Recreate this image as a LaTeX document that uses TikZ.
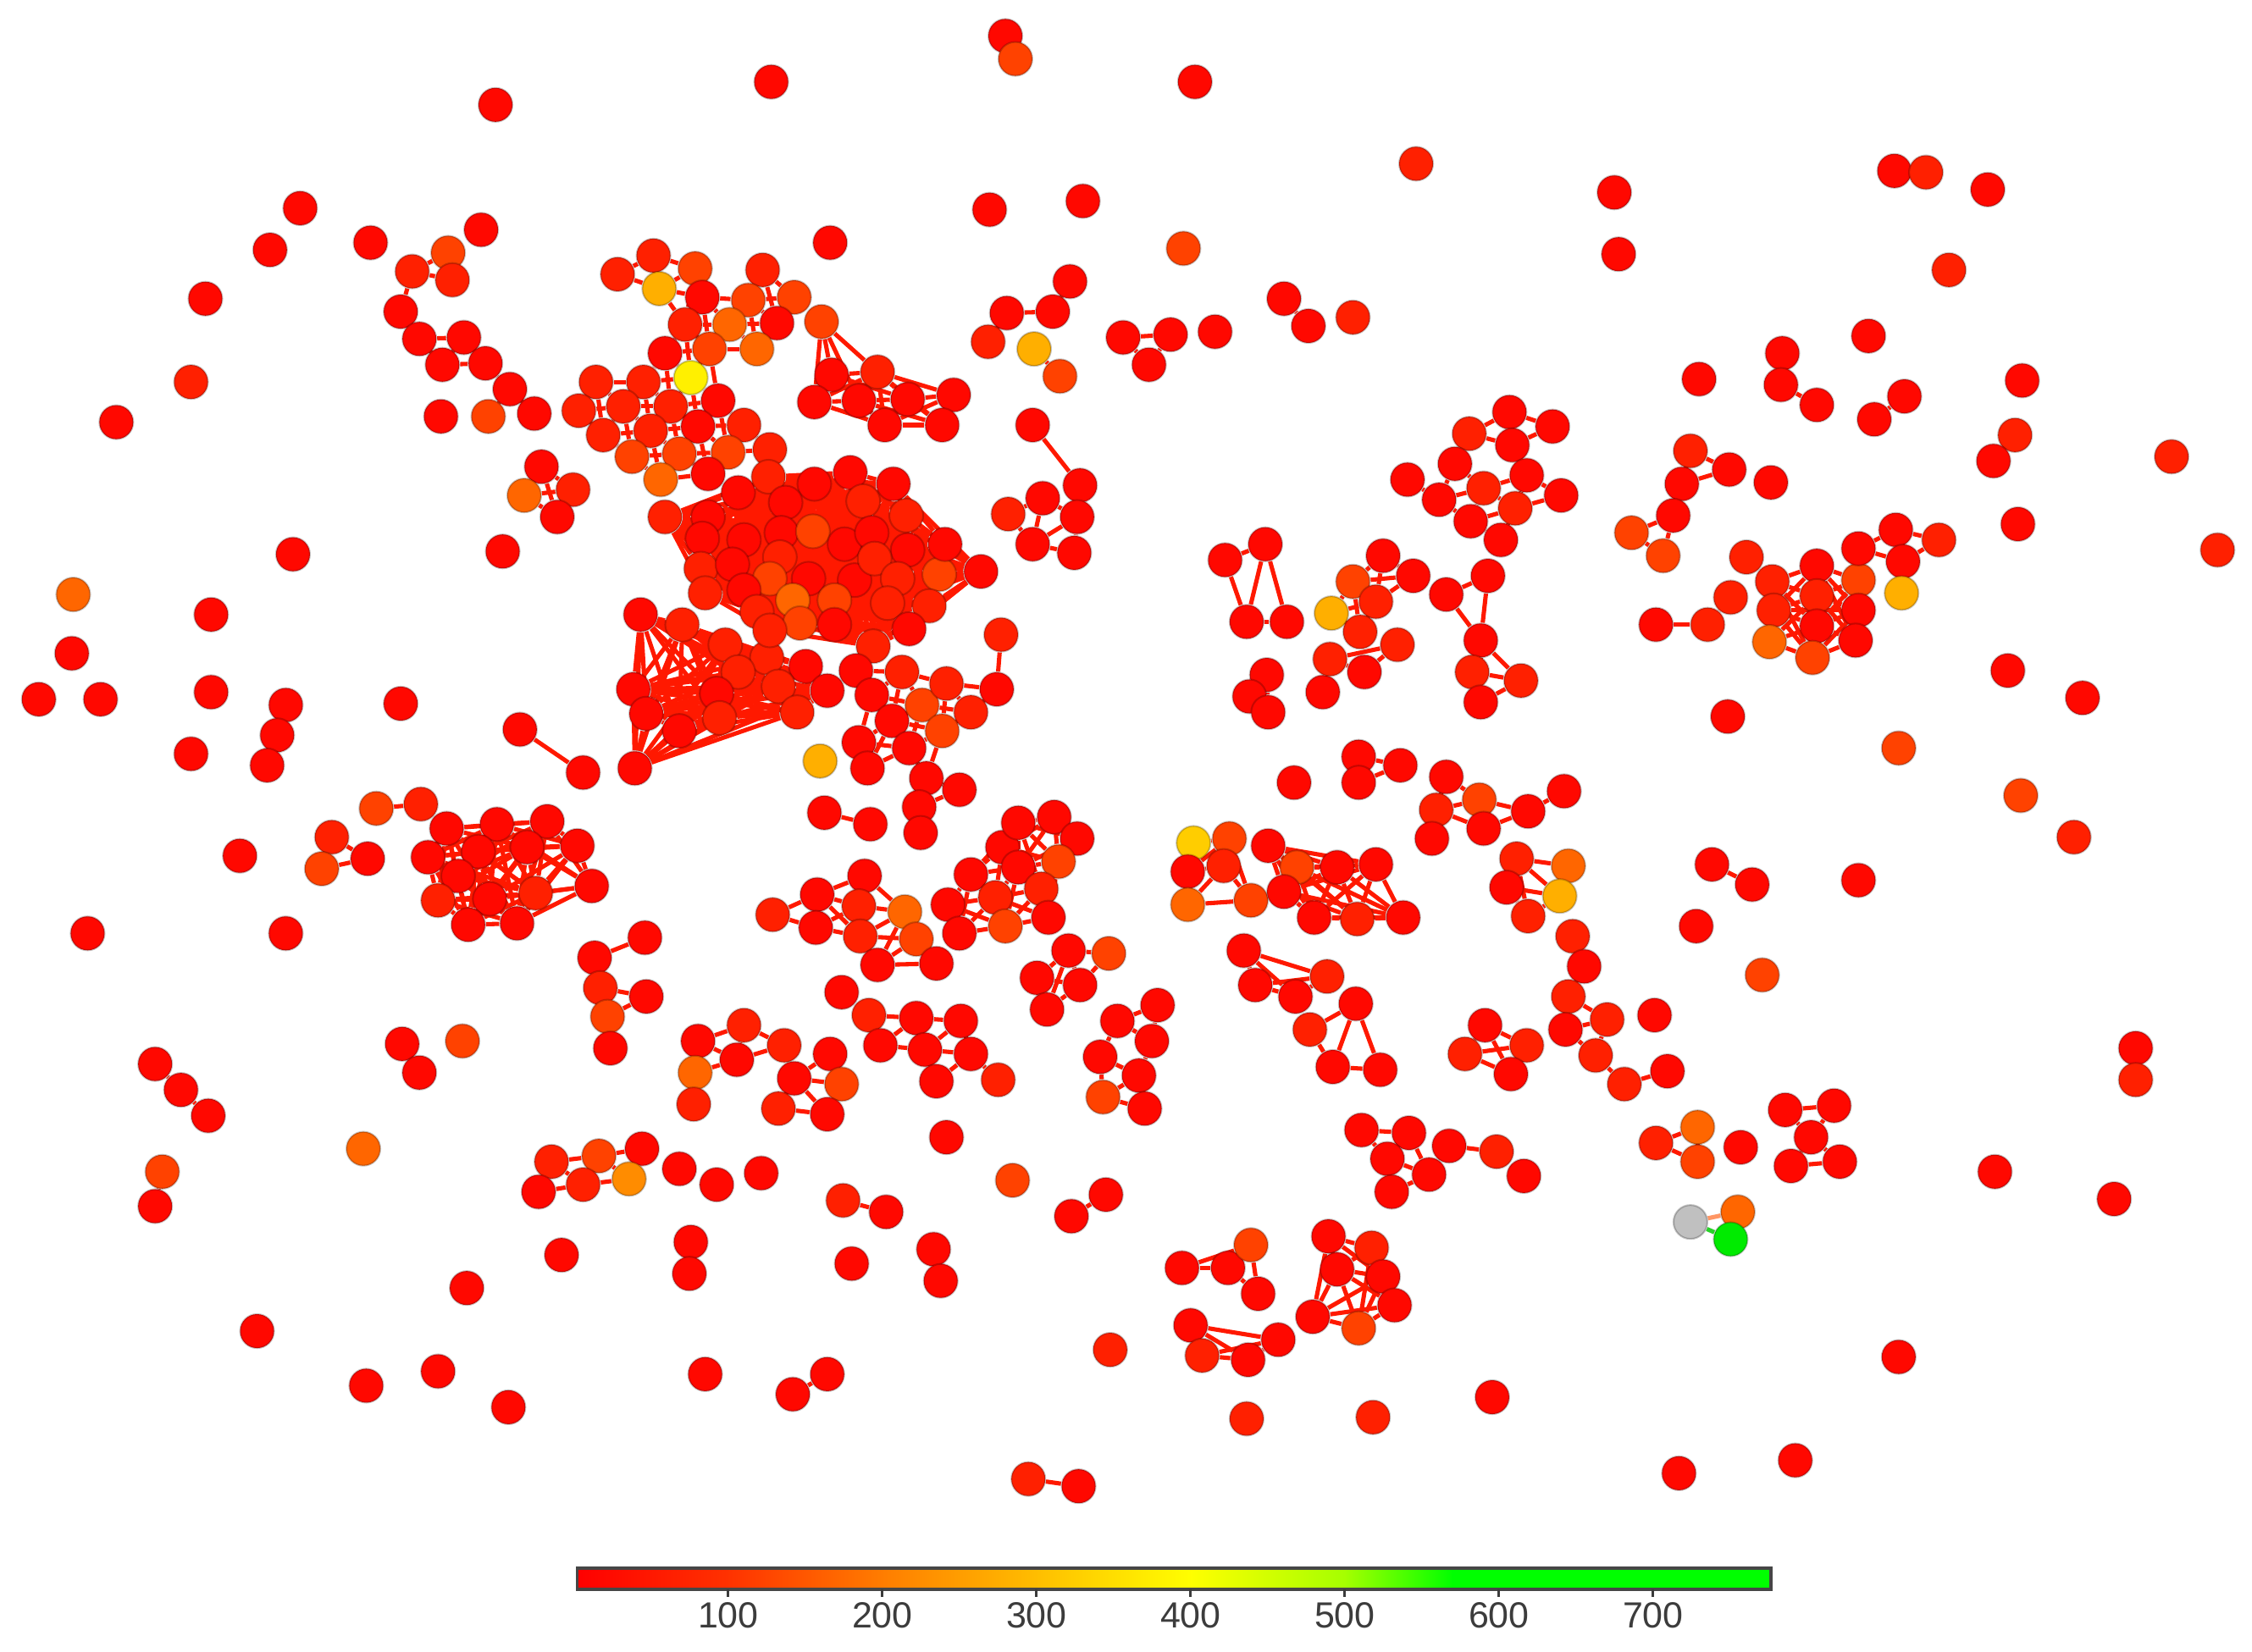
\documentclass[tikz,border=0pt]{standalone}
\usepackage{fontspec}
\setmainfont{Liberation Sans}
\pgfdeclarelayer{back}
\pgfdeclarelayer{bg}
\pgfsetlayers{back,bg,main}
\definecolor{C0}{RGB}{255,8,0}
\definecolor{C1}{RGB}{255,32,0}
\definecolor{C2}{RGB}{255,66,0}
\definecolor{C3}{RGB}{255,102,0}
\definecolor{C35}{RGB}{255,140,0}
\definecolor{C4}{RGB}{255,175,0}
\definecolor{CY}{RGB}{255,205,0}
\definecolor{C5}{RGB}{255,240,0}
\definecolor{CG}{RGB}{192,192,192}
\definecolor{CN}{RGB}{0,235,0}
\definecolor{EC}{RGB}{255,25,0}
\definecolor{LBL}{RGB}{60,60,60}
\definecolor{cb0}{RGB}{255,0,0}
\definecolor{cb1}{RGB}{255,50,0}
\definecolor{cb2}{RGB}{255,125,0}
\definecolor{cb3}{RGB}{255,190,0}
\definecolor{cb4}{RGB}{255,255,0}
\definecolor{cb5}{RGB}{165,255,0}
\definecolor{cb6}{RGB}{0,255,0}
\newdimen\lkx \newdimen\lky \newdimen\unitlen \unitlen=0.01cm
\makeatletter
\newcommand\cluster[2]{%
  \foreach \px/\py/\pc [count=\pn] in {#2}{%
    \node[nd,\pc] (#1\pn) at (\px,\py) {};
    \expandafter\xdef\csname cnt#1\endcsname{\pn}}}
\newcommand\linknear[2]{%
  \edef\lkN{\csname cnt#1\endcsname}%
  \foreach \i in {1,...,\lkN}{%
    \foreach \j in {1,...,\lkN}{%
      \ifnum\i<\j\relax
        \pgfpointdiff{\pgfpointanchor{#1\i}{center}}{\pgfpointanchor{#1\j}{center}}%
        \lkx=\pgf@x \lky=\pgf@y
        \pgfmathsetmacro\lkd{veclen(\lkx,\lky)}%
        \ifdim\lkd pt<#2\unitlen
          \draw[lnk] (#1\i) -- (#1\j);
        \fi
      \fi}}}
\makeatother
\tikzset{
  nd/.style={circle, inner sep=0pt, minimum size=0.236cm, draw=black, draw opacity=0.22, line width=0.35pt},
  c0/.style={fill=C0}, c1/.style={fill=C1}, c2/.style={fill=C2}, c3/.style={fill=C3},
  c35/.style={fill=C35}, c4/.style={fill=C4}, cy/.style={fill=CY}, c5/.style={fill=C5},
  cg/.style={fill=CG}, cn/.style={fill=CN},
  lnk/.style={draw=EC, line width=0.85pt},
  tck/.style={draw=LBL, line width=0.5pt},
  lbl/.style={text=LBL, font=\fontsize{7.2}{8}\selectfont, inner sep=0pt}
}
\begin{document}
\begin{tikzpicture}[x=0.01cm, y=-0.01cm]
\begin{pgfonlayer}{back}
\fill[white] (0,0) rectangle (1568,1150);
\end{pgfonlayer}
\useasboundingbox (0,0) rectangle (1568,1150);
% singles
\cluster{s}{537/57/c0, 832/57/c0, 345/73/c0, 986/114/c1, 1384/132/c0, 1124/134/c0, 1127/177/c0, 1357/188/c1, 209/145/c0, 188/174/c0, 258/169/c0, 335/160/c0, 143/208/c0, 133/266/c1, 81/294/c0, 689/146/c0, 754/140/c0, 578/169/c0, 824/173/c2, 942/221/c1, 846/231/c0, 204/386/c0, 350/384/c0, 51/414/c3, 147/428/c0, 50/455/c0, 27/487/c0, 70/487/c0, 147/482/c0, 133/525/c0, 279/490/c0, 167/596/c0, 61/650/c0, 199/650/c0, 253/800/c3, 322/725/c2, 325/897/c0, 391/874/c0, 179/927/c0, 255/965/c0, 305/955/c0, 354/980/c0, 491/957/c0, 593/880/c0, 659/792/c0, 705/822/c2, 773/940/c1, 1039/973/c0, 1322/945/c0, 1250/1017/c0, 1169/1026/c0, 1389/816/c0, 1472/835/c0, 1227/679/c2, 1181/645/c0, 1294/613/c0, 1444/583/c1, 1407/554/c2, 1322/521/c2, 1450/486/c0, 1398/467/c0, 1203/499/c0, 1512/318/c1, 1544/383/c1, 1408/265/c0, 1405/365/c0, 1183/264/c0, 1301/234/c0, 868/988/c1, 956/987/c1, 1152/707/c0, 571/530/c4, 901/545/c0, 921/482/c0, 1216/388/c1, 1233/336/c0, 1061/819/c0, 586/691/c0, 473/814/c0, 499/825/c0, 530/817/c0, 1212/799/c0}
% small groups
\cluster{pa}{700/25/c0, 707/41/c2}
\cluster{pb}{362/508/c0, 406/538/c0}
\cluster{pc}{719/296/c0, 752/338/c0}
\cluster{pd}{716/1030/c1, 751/1035/c0}
\cluster{pe}{552/971/c0, 576/957/c0}
\cluster{pf}{481/865/c0, 480/887/c0}
\cluster{pg}{650/870/c0, 655/892/c0}
\cluster{ph}{587/836/c1, 617/844/c0}
\cluster{pi}{746/847/c0, 770/832/c0}
\cluster{pj}{1192/602/c0, 1220/616/c0}
\cluster{pk}{1487/730/c0, 1487/752/c1}
\cluster{pl}{1319/119/c0, 1341/120/c1}
\cluster{pm}{113/816/c2, 108/840/c0}
\cluster{pn}{280/727/c0, 292/747/c0}
\cluster{po}{108/741/c0, 126/759/c0, 145/777/c0}
\cluster{pp}{199/491/c0, 193/512/c0, 186/533/c0}
\cluster{pq}{894/208/c0, 911/227/c0}
\cluster{pr}{782/235/c0, 815/233/c0, 800/254/c0}
\cluster{ps}{745/196/c0, 733/217/c0, 701/218/c0, 688/238/c1}
\cluster{pt}{720/243/c4, 738/262/c2}
\cluster{pu}{1241/246/c0, 1240/268/c0, 1265/282/c0}
\cluster{pv}{1326/276/c0, 1305/292/c0}
\cluster{pw}{1403/303/c1, 1388/321/c0}
\cluster{px}{1177/314/c1, 1204/327/c0, 1171/337/c0, 1165/359/c0, 1136/371/c2, 1158/387/c2}
\cluster{py}{1153/435/c0, 1189/435/c1, 1205/416/c1}
\cluster{pz}{1243/773/c0, 1277/770/c0, 1261/792/c0, 1247/812/c0, 1281/809/c0}
\cluster{qa}{1153/796/c1, 1182/785/c3, 1182/809/c2}
\cluster{qb}{1009/798/c0, 1042/802/c1}
\cluster{qc}{948/787/c0, 981/789/c0, 966/807/c0, 995/818/c0, 969/830/c0}
\cluster{qd}{1095/652/c1, 1103/673/c0, 1092/694/c1, 1090/717/c0, 1119/710/c1, 1111/735/c1, 1131/755/c1, 1161/746/c0}
\cluster{qe}{1034/714/c0, 1020/734/c1, 1063/728/c1, 1052/748/c0}
\cluster{qf}{866/662/c0, 874/686/c0, 902/694/c0, 924/680/c1}
\cluster{qg}{944/699/c0, 912/717/c1, 928/743/c0, 961/745/c0}
\cluster{qh}{823/883/c0, 855/883/c0, 871/867/c2, 876/901/c0}
\cluster{qi}{829/923/c0, 837/944/c1, 869/947/c0, 890/933/c0}
\cluster{qj}{925/861/c0, 955/869/c1, 931/884/c0, 963/889/c0, 971/909/c0, 914/917/c0, 946/925/c2}
\cluster{ra}{538/637/c1, 569/623/c0, 568/646/c0, 602/610/c0, 598/631/c1, 630/635/c3, 599/652/c1, 638/654/c2, 611/672/c0, 652/671/c0}
\cluster{rb}{698/590/c0, 709/573/c0, 734/569/c0, 750/584/c0, 676/609/c0, 709/604/c0, 737/600/c2, 725/619/c1, 660/630/c0, 693/625/c1, 668/650/c0, 700/645/c2, 730/639/c0}
\cluster{rc}{744/662/c0, 772/664/c2, 722/681/c0, 752/686/c0, 729/703/c0}
\cluster{rd}{806/700/c0, 778/711/c0, 802/725/c0, 766/736/c0, 793/749/c0, 768/764/c2, 797/772/c0}
\cluster{re}{486/725/c0, 518/714/c1, 513/738/c0, 546/728/c1, 484/747/c3, 483/769/c1}
\cluster{rf}{578/734/c0, 553/751/c0, 586/755/c2, 542/772/c1, 576/776/c0}
\cluster{rg}{605/707/c1, 638/709/c0, 669/711/c0, 613/728/c0, 644/731/c0, 676/734/c0, 652/753/c0, 695/752/c1}
\cluster{ri}{449/653/c0, 414/667/c0, 418/688/c1, 450/694/c0, 423/708/c2, 425/730/c0}
\cluster{rj}{384/809/c1, 417/805/c2, 447/800/c0, 375/830/c0, 406/825/c1, 438/821/c35}
\cluster{sa}{262/563/c2, 293/560/c1}
\cluster{sb}{231/583/c1, 224/605/c2, 256/598/c0}
\cluster{P}{311/577/c0, 346/574/c0, 381/572/c0, 298/597/c0, 333/593/c0, 367/590/c0, 402/589/c0, 319/610/c0, 373/622/c1, 412/617/c0, 341/626/c0, 305/627/c1, 326/644/c0, 360/643/c0}
\cluster{ta}{853/390/c0, 881/379/c0, 868/433/c0, 896/433/c0}
\cluster{tb}{963/387/c0, 942/405/c2, 984/401/c0, 958/419/c1, 927/427/c4, 947/440/c1}
\cluster{tc}{973/449/c1, 926/459/c1, 950/468/c0}
\cluster{td}{882/470/c0, 870/485/c0, 883/496/c0}
\cluster{te}{1007/414/c0, 1036/401/c0, 1031/446/c0, 1025/468/c1, 1059/474/c1, 1031/489/c0}
\cluster{tf}{1051/287/c0, 1081/297/c0, 1023/302/c1, 1053/310/c0, 1013/323/c0, 980/334/c0, 1002/348/c0, 1033/340/c1, 1063/331/c0, 1087/345/c0, 1055/354/c1, 1024/363/c0, 1045/376/c0}
\cluster{ua}{831/587/cy, 856/584/c2, 827/607/c0, 852/603/c1, 827/630/c3, 871/627/c2}
\cluster{Q}{883/589/c0, 903/604/c2, 931/604/c0, 958/602/c0, 894/621/c0, 915/639/c0, 945/640/c1, 977/639/c0}
\cluster{ub}{946/527/c0, 975/533/c0, 946/545/c0}
\cluster{uc}{1007/541/c0, 1000/564/c1, 1030/557/c2, 1033/577/c0, 1064/565/c0, 1089/551/c0, 997/584/c0}
\cluster{ud}{1056/598/c1, 1092/603/c3, 1049/618/c0, 1086/624/c4, 1064/638/c1}
\cluster{R}{1234/405/c1, 1265/394/c0, 1294/404/c2, 1235/425/c1, 1265/415/c1, 1294/425/c0, 1232/447/c3, 1265/436/c0, 1262/458/c2, 1292/446/c0}
\cluster{rq}{1294/382/c0, 1320/369/c0, 1350/376/c1, 1325/391/c0}
\cluster{s2}{1324/413/c4}
\cluster{ha}{702/358/c1, 726/347/c0, 750/360/c0, 719/379/c0, 748/385/c0}
\cluster{K}{572/224/c2, 579/261/c0, 611/259/c1, 567/280/c0, 598/279/c0, 632/278/c0, 664/275/c0, 616/296/c0, 656/296/c0}
\cluster{A}{287/189/c1, 312/176/c2, 315/195/c1, 279/217/c0, 292/236/c0, 323/235/c0, 308/254/c0, 338/253/c0, 355/271/c0, 372/288/c0, 340/290/c2, 307/290/c0}
\cluster{A2}{377/325/c0, 399/341/c1, 365/345/c3, 388/360/c0}
\cluster{B}{430/191/c1, 455/178/c1, 484/187/c2, 459/201/c4, 489/207/c0, 531/188/c1, 521/209/c2, 553/207/c2, 477/226/c1, 508/226/c3, 541/225/c0, 463/246/c0, 494/243/c2, 527/243/c3, 481/263/c5, 415/266/c1, 448/266/c1, 403/286/c1, 434/283/c1, 467/283/c1, 500/279/c0, 420/303/c1, 453/300/c1, 486/297/c0, 518/296/c1, 440/318/c2, 473/316/c2, 507/315/c2, 536/313/c1, 460/334/c3, 493/330/c0}
\cluster{W}{446/428/c0, 475/435/c1, 505/449/c1, 534/458/c1, 561/464/c0, 441/480/c0, 514/468/c1, 499/483/c0, 450/497/c0, 473/509/c0, 501/500/c1, 542/478/c1, 555/496/c1, 576/481/c0, 442/535/c0}
\cluster{M}{463/360/c1, 514/343/c0, 535/332/c1, 567/337/c0, 592/329/c0, 622/337/c0, 601/349/c1, 631/359/c1, 493/360/c0, 489/375/c0, 518/376/c0, 547/350/c0, 544/371/c0, 566/370/c2, 588/379/c0, 607/371/c0, 632/383/c0, 488/396/c1, 510/393/c0, 543/388/c1, 563/403/c0, 595/404/c0, 609/389/c1, 625/403/c1, 654/400/c2, 658/379/c0, 683/398/c0, 536/403/c2, 491/413/c1, 518/411/c0, 552/418/c3, 581/418/c2, 618/420/c1, 647/422/c1, 527/426/c1, 557/434/c2, 581/435/c0, 608/450/c1, 633/438/c0, 536/439/c1}
\cluster{E}{596/467/c0, 628/468/c1, 607/484/c0, 621/502/c0, 642/491/c2, 659/476/c1, 676/496/c1, 656/509/c2, 697/442/c1, 694/480/c0, 598/517/c0, 604/535/c0, 633/521/c0, 645/542/c0, 668/550/c0, 640/562/c0, 641/580/c0}
\cluster{pf2}{574/566/c0, 606/574/c0}
% gray / green group
\node[nd,cg] (gy) at (1177,851) {};
\node[nd,c3] (go) at (1210,844) {};
\node[nd,cn] (gn) at (1205,863) {};
\begin{pgfonlayer}{bg}
\linknear{pa}{40}\linknear{pb}{60}\linknear{pc}{60}\linknear{pd}{40}
\linknear{pe}{40}\linknear{pf}{40}\linknear{pg}{40}\linknear{ph}{40}
\linknear{pi}{40}\linknear{pj}{40}\linknear{pk}{40}\linknear{pl}{40}
\linknear{pm}{40}\linknear{pn}{40}\linknear{po}{30}\linknear{pp}{30}
\linknear{pq}{40}\linknear{pr}{40}\linknear{ps}{35}\linknear{pt}{40}
\linknear{pu}{35}\linknear{pv}{40}\linknear{pw}{40}\linknear{px}{35}
\linknear{py}{40}\linknear{pz}{36}\linknear{qa}{36}\linknear{qb}{40}
\linknear{qc}{36}\linknear{qd}{33}\linknear{qe}{45}\linknear{qf}{62}
\linknear{qg}{55}\linknear{qh}{55}\linknear{qi}{62}\linknear{qj}{60}
\linknear{ra}{42}\linknear{rb}{50}\linknear{rc}{45}\linknear{rd}{33}
\linknear{re}{36}\linknear{rf}{40}\linknear{rg}{40}\linknear{ri}{38}
\linknear{rj}{36}\linknear{sa}{40}\linknear{sb}{40}\linknear{P}{80}
\linknear{ta}{60}\linknear{tb}{45}\linknear{tc}{50}\linknear{td}{30}
\linknear{te}{48}\linknear{tf}{34}\linknear{ua}{46}\linknear{Q}{100}
\linknear{ub}{35}\linknear{uc}{36}\linknear{ud}{42}\linknear{R}{60}
\linknear{rq}{35}\linknear{ha}{40}\linknear{K}{62}\linknear{A}{32}
\linknear{A2}{40}\linknear{B}{40}\linknear{W}{200}\linknear{M}{110}
\linknear{E}{40}\linknear{pf2}{40}
\draw[line width=0.85pt, draw={rgb,255:red,255;green,150;blue,100}] (gy) -- (go);
\draw[line width=0.85pt, draw={rgb,255:red,40;green,210;blue,40}] (gy) -- (gn);
\draw[lnk] (go) -- (gn);
\end{pgfonlayer}
% colour bar
\shade[left color=cb0, right color=cb1] (402,1092) rectangle (508,1107);
\shade[left color=cb1, right color=cb2] (507,1092) rectangle (615,1107);
\shade[left color=cb2, right color=cb3] (614.4,1092) rectangle (722.5,1107);
\shade[left color=cb3, right color=cb4] (721.7,1092) rectangle (829.8,1107);
\shade[left color=cb4, right color=cb5] (829,1092) rectangle (937,1107);
\shade[left color=cb5, right color=cb6] (936.4,1092) rectangle (1012,1107);
\fill[cb6] (1011,1092) rectangle (1233,1107);
\draw[draw={rgb,255:red,70;green,70;blue,70}, line width=0.6pt] (402,1092) rectangle (1233,1107);
\foreach \v in {100,200,...,700}{
  \draw[tck] ({399.7+1.0733*\v},1107) -- ++(0,5);
  \node[lbl] (lab\v) at ({399.7+1.0733*\v},1125) {\v};
}
\end{tikzpicture}
\end{document}
